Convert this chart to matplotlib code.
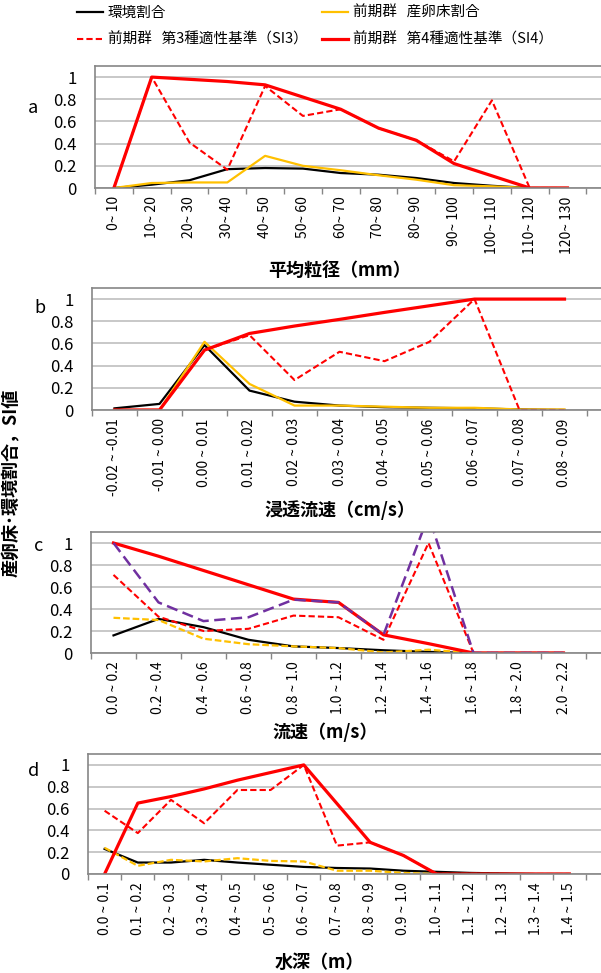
import matplotlib
matplotlib.use("Agg")
import matplotlib.pyplot as plt
import numpy as np

plt.rcParams["font.family"] = ["Noto Sans CJK JP", "DejaVu Sans"]

W, H = 601, 973

RED = "#FF0000"
GOLD = "#FFC000"
PURPLE = "#7030A0"
GRID = "#BFBFBF"
SPINE = "#868686"

# a: 平均粒径 (mm)
size_labels = ["0~ 10", "10~ 20", "20~ 30", "30~ 40", "40~ 50", "50~ 60", "60~ 70",
               "70~ 80", "80~ 90", "90~ 100", "100~ 110", "110~ 120", "120~ 130"]
size_env = [0, 0.03, 0.07, 0.17, 0.18, 0.175, 0.135, 0.12, 0.09, 0.045, 0.02, 0, 0]
size_redd = [0, 0.045, 0.05, 0.05, 0.29, 0.2, 0.16, 0.115, 0.075, 0.025, 0.015, 0, 0]
size_si3 = [0, 1.0, 0.41, 0.165, 0.92, 0.65, 0.71, 0.54, 0.43, 0.24, 0.79, 0, 0]
size_si4 = [0, 1.0, 0.98, 0.96, 0.93, 0.82, 0.71, 0.54, 0.43, 0.22, 0.11, 0, 0]

# b: 浸透流速 (cm/s)
perm_labels = ["-0.02 ~ -0.01", "-0.01 ~ 0.00", "0.00 ~ 0.01", "0.01 ~ 0.02", "0.02 ~ 0.03",
               "0.03 ~ 0.04", "0.04 ~ 0.05", "0.05 ~ 0.06", "0.06 ~ 0.07", "0.07 ~ 0.08",
               "0.08 ~ 0.09"]
perm_env = [0.015, 0.055, 0.585, 0.175, 0.075, 0.04, 0.025, 0.02, 0.015, 0.005, 0]
perm_redd = [0, 0, 0.615, 0.235, 0.04, 0.04, 0.03, 0.02, 0.02, 0.005, 0.005]
perm_si3 = [0, 0, 0.54, 0.675, 0.27, 0.525, 0.44, 0.615, 1.0, 0, 0]
perm_si4 = [0, 0, 0.54, 0.69, 0.757, 0.817, 0.88, 0.94, 1.0, 1.0, 1.0]

# c: 流速 (m/s)
vel_labels = ["0.0 ~ 0.2", "0.2 ~ 0.4", "0.4 ~ 0.6", "0.6 ~ 0.8", "0.8 ~ 1.0", "1.0 ~ 1.2",
              "1.2 ~ 1.4", "1.4 ~ 1.6", "1.6 ~ 1.8", "1.8 ~ 2.0", "2.0 ~ 2.2"]
vel_env = [0.16, 0.31, 0.235, 0.12, 0.06, 0.045, 0.025, 0.01, 0, 0, 0]
vel_redd = [0.32, 0.30, 0.13, 0.08, 0.06, 0.045, 0.005, 0.03, 0, 0, 0]
vel_si3 = [0.71, 0.33, 0.2, 0.22, 0.34, 0.325, 0.12, 1.0, 0, 0, 0]
vel_si4 = [1.0, 0.88, 0.75, 0.62, 0.49, 0.46, 0.165, 0.085, 0, 0, 0]
vel_other = [1.0, 0.46, 0.29, 0.325, 0.485, 0.46, 0.165, 1.25, 0, 0, 0]

# d: 水深 (m)
depth_labels = ["0.0 ~ 0.1", "0.1 ~ 0.2", "0.2 ~ 0.3", "0.3 ~ 0.4", "0.4 ~ 0.5", "0.5 ~ 0.6",
                "0.6 ~ 0.7", "0.7 ~ 0.8", "0.8 ~ 0.9", "0.9 ~ 1.0", "1.0 ~ 1.1", "1.1 ~ 1.2",
                "1.2 ~ 1.3", "1.3 ~ 1.4", "1.4 ~ 1.5"]
depth_env = [0.23, 0.105, 0.105, 0.13, 0.105, 0.085, 0.065, 0.055, 0.05, 0.03, 0.02, 0.01,
             0.005, 0, 0]
depth_redd = [0.24, 0.075, 0.13, 0.115, 0.145, 0.12, 0.115, 0.03, 0.03, 0.01, 0, 0, 0, 0, 0]
depth_si3 = [0.58, 0.375, 0.68, 0.465, 0.77, 0.77, 1.0, 0.26, 0.29, 0.17, 0, 0, 0, 0, 0]
depth_si4 = [0, 0.65, 0.71, 0.78, 0.86, 0.93, 1.0, 0.645, 0.29, 0.17, 0, 0, 0, 0, 0]

legend_labels = ["環境割合", "前期群   産卵床割合",
                 "前期群   第3種適性基準（SI3）", "前期群   第4種適性基準（SI4）"]

red_dash = (0, (3, 1.5))
gold_dash = (0, (3, 1.3))
purple_dash = (0, (4.5, 2.2))


def make_axes(fig, left, top, bottom, step):
    """Axes in pixel coords; plot area runs past the right edge like the source."""
    ax = fig.add_axes([left / W, 1 - bottom / H, (W - left) / W, (bottom - top) / H])
    ax.set_xlim(-0.5, (W - left) / step - 0.5)
    return ax


def style_axes(ax, labels, letter, letter_xy, xlabel, xlabel_xy):
    n = len(labels)
    ax.set_ylim(0, 1.1)
    ax.set_yticks([0, 0.2, 0.4, 0.6, 0.8, 1.0])
    ax.set_yticklabels(["0", "0.2", "0.4", "0.6", "0.8", "1"])
    ax.tick_params(axis="y", length=0, pad=13, labelsize=12)
    ax.set_xticks(np.arange(n))
    ax.set_xticklabels(labels, rotation=90, va="top", ha="center")
    ax.set_xticks(np.arange(n + 1) - 0.5, minor=True)
    ax.tick_params(axis="x", which="major", length=0, pad=6, labelsize=10)
    ax.tick_params(axis="x", which="minor", length=4, color=SPINE, width=1)
    ax.grid(axis="y", color=GRID, lw=1.2)
    ax.set_axisbelow(True)
    for side in ["left", "bottom", "top"]:
        ax.spines[side].set_color(SPINE)
        ax.spines[side].set_linewidth(1.2)
    ax.spines["right"].set_visible(False)
    fig = ax.figure
    fig.text(letter_xy[0] / W, 1 - letter_xy[1] / H, letter, fontsize=13,
             ha="center", va="center")
    fig.text(xlabel_xy[0] / W, 1 - xlabel_xy[1] / H, xlabel, fontsize=13,
             fontweight="bold", ha="center", va="center")


def draw_series(ax, env, redd, si3, si4, redd_style="-", other=None):
    x = np.arange(len(env))
    h_env, = ax.plot(x, env, color="black", lw=1.6)
    h_redd, = ax.plot(x, redd, color=GOLD, lw=1.6, linestyle=redd_style)
    h_si3, = ax.plot(x, si3, color=RED, lw=1.5, linestyle=red_dash)
    h_si4, = ax.plot(x, si4, color=RED, lw=2.3)
    if other is not None:
        ax.plot(x, other, color=PURPLE, lw=1.8, linestyle=purple_dash)
    return h_env, h_redd, h_si3, h_si4


fig = plt.figure(figsize=(W / 100, H / 100), dpi=100)

ax_a = make_axes(fig, 95, 66, 188, 37.8)
handles = draw_series(ax_a, size_env, size_redd, size_si3, size_si4)
style_axes(ax_a, size_labels, "a", (33, 108), "平均粒径（mm）", (340, 270))

ax_b = make_axes(fig, 92, 288, 410, 45.0)
draw_series(ax_b, perm_env, perm_redd, perm_si3, perm_si4)
style_axes(ax_b, perm_labels, "b", (40, 308), "浸透流速（cm/s）", (340, 510))

ax_c = make_axes(fig, 91, 532, 653, 45.0)
draw_series(ax_c, vel_env, vel_redd, vel_si3, vel_si4, redd_style=gold_dash, other=vel_other)
style_axes(ax_c, vel_labels, "c", (39, 546), "流速（m/s）", (325, 732))

ax_d = make_axes(fig, 88, 754, 874, 33.2)
draw_series(ax_d, depth_env, depth_redd, depth_si3, depth_si4, redd_style=gold_dash)
style_axes(ax_d, depth_labels, "d", (34, 771), "水深（m）", (319, 962))

fig.text(11 / W, 1 - 483 / H, "産卵床･環境割合，SI値", rotation=90, fontsize=13,
         fontweight="bold", ha="center", va="center")

# legend: column-wise fill -> black, SI3 | gold, SI4
h_env, h_redd, h_si3, h_si4 = handles
fig.legend([h_env, h_si3, h_redd, h_si4],
           [legend_labels[0], legend_labels[2], legend_labels[1], legend_labels[3]],
           ncol=2, loc="upper left", bbox_to_anchor=(77 / W, 1 - 6 / H),
           frameon=False, fontsize=10.5, handlelength=1.8, handletextpad=0.3,
           columnspacing=1.0, labelspacing=0.85, borderpad=0, borderaxespad=0)

fig.savefig("out.png", dpi=100)
